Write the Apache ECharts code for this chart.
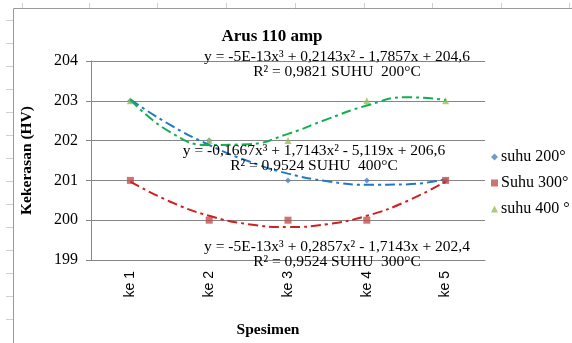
<!DOCTYPE html>
<html><head><meta charset="utf-8">
<script src="https://cdn.jsdelivr.net/npm/echarts@6/dist/echarts.min.js"></script>
<style>html,body{margin:0;padding:0;background:#fff}#c{width:572px;height:343px}</style>
</head><body><div id="c"></div>
<script>
const categories = ['ke 1','ke 2','ke 3','ke 4','ke 5'];
const suhu200 = [203, 202, 201, 201, 201];
const suhu300 = [201, 200, 200, 200, 201];
const suhu400 = [203, 202, 202, 203, 203];
// trendline samples at x = 1, 1.5, ..., 5
const trendX = [1, 1.5, 2, 2.5, 3, 3.5, 4, 4.5, 5];
const trend200 = [203.03, 202.40, 201.89, 201.48, 201.17, 200.98, 200.89, 200.90, 201.03];
const trend300 = [200.97, 200.47, 200.11, 199.90, 199.83, 199.90, 200.11, 200.47, 200.97];
const trend400 = [203.03, 202.22, 201.89, 201.91, 202.17, 202.54, 202.88, 203.09, 203.02];
const eq200 = ['y = -5E-13x³ + 0,2143x² - 1,7857x + 204,6', 'R² = 0,9821 SUHU  200°C'];
const eq400 = ['y = -0,1667x³ + 1,7143x² - 5,119x + 206,6', 'R² = 0,9524 SUHU  400°C'];
const eq300 = ['y = -5E-13x³ + 0,2857x² - 1,7143x + 202,4', 'R² = 0,9524 SUHU  300°C'];

const serif = 'Liberation Serif';
const pairs = (xs, ys) => xs.map((x, i) => [x, ys[i]]);
const chart = echarts.init(document.getElementById('c'));
const dash = [10, 4, 3, 4];
const g = [];
g.push({type:'line', shape:{x1:13.5,y1:8.5,x2:572,y2:8.5}, style:{stroke:'#9a9a9a', lineWidth:1}});
g.push({type:'line', shape:{x1:13.5,y1:8.5,x2:13.5,y2:343}, style:{stroke:'#9a9a9a', lineWidth:1}});
[22, 89, 157, 226, 295, 364, 432, 501, 569].forEach(x => g.push({type:'line', shape:{x1:x+0.5,y1:3,x2:x+0.5,y2:8}, style:{stroke:'#d0d0d0', lineWidth:1}}));
[20, 43, 66, 89, 112, 135, 158, 181, 204, 227, 250, 273, 296, 319].forEach(y => g.push({type:'line', shape:{x1:6,y1:y+0.5,x2:13,y2:y+0.5}, style:{stroke:'#d0d0d0', lineWidth:1}}));
function addEq(lines, cx, y) {
  g.push({type:'text', style:{text:lines[0], x:cx, y:y, textAlign:'center', textVerticalAlign:'middle', font:'15.5px "Liberation Serif"', fill:'#000'}, z:10});
  g.push({type:'text', style:{text:lines[1], x:cx, y:y+15, textAlign:'center', textVerticalAlign:'middle', font:'15.5px "Liberation Serif"', fill:'#000'}, z:10});
}
addEq(eq200, 337, 57);
addEq(eq400, 314, 151);
addEq(eq300, 337, 247);

chart.setOption({
  animation:false,
  backgroundColor:'#fff',
  title:{text:'Arus 110 amp', left:267, top:23, textAlign:'center', textStyle:{fontFamily:serif, fontWeight:'bold', fontSize:17, color:'#000'}},
  grid:{left:91, right:87, top:61, bottom:79},
  legend:{
    orient:'vertical', left:486, top:144, itemGap:10, itemWidth:7, itemHeight:7,
    textStyle:{fontFamily:serif, fontSize:16, color:'#000', padding:[0,0,0,-2]},
    data:[
      {name:'suhu 200°', icon:'diamond'},
      {name:'Suhu 300°', icon:'rect'},
      {name:'suhu 400 °', icon:'triangle'}
    ]
  },
  xAxis:[
    {type:'category', data:categories, boundaryGap:true,
     axisLine:{lineStyle:{color:'#868686'}}, axisTick:{show:false},
     axisLabel:{rotate:90, margin:11, fontFamily:'Liberation Sans', fontSize:14, color:'#000'},
     name:'Spesimen', nameLocation:'middle', nameGap:62,
     nameTextStyle:{fontFamily:serif, fontWeight:'bold', fontSize:15.5, color:'#000', padding:[0,40,0,0]}},
    {type:'value', min:0.5, max:5.5, show:false}
  ],
  yAxis:{type:'value', min:199, max:204, interval:1,
    axisLine:{show:true, lineStyle:{color:'#868686'}},
    axisTick:{show:true, length:5, lineStyle:{color:'#868686'}},
    splitLine:{lineStyle:{color:'#868686'}},
    axisLabel:{fontFamily:serif, fontSize:16, color:'#000', margin:13},
    name:'Kekerasan (HV)', nameLocation:'middle', nameGap:56, nameRotate:90,
    nameTextStyle:{fontFamily:serif, fontWeight:'bold', fontSize:15.5, color:'#000'}},
  series:[
    {name:'suhu 200°', type:'scatter', data:suhu200, symbol:'diamond', symbolSize:6, itemStyle:{color:'#4F81BD'}, z:3},
    {name:'Suhu 300°', type:'scatter', data:suhu300, symbol:'rect', symbolSize:7, itemStyle:{color:'#C0504D'}, z:3},
    {name:'suhu 400 °', type:'scatter', data:suhu400, symbol:'triangle', symbolSize:7, itemStyle:{color:'#9BBB59'}, z:3},
    {name:'t200', type:'line', xAxisIndex:1, data:pairs(trendX, trend200), smooth:true, showSymbol:false, lineStyle:{color:'#1f78c8', width:2, type:dash}, z:4},
    {name:'t300', type:'line', xAxisIndex:1, data:pairs(trendX, trend300), smooth:true, showSymbol:false, lineStyle:{color:'#d02020', width:2, type:dash}, z:4},
    {name:'t400', type:'line', xAxisIndex:1, data:pairs(trendX, trend400), smooth:true, showSymbol:false, lineStyle:{color:'#10b050', width:2, type:dash}, z:4}
  ],
  graphic:g
});
</script></body></html>
